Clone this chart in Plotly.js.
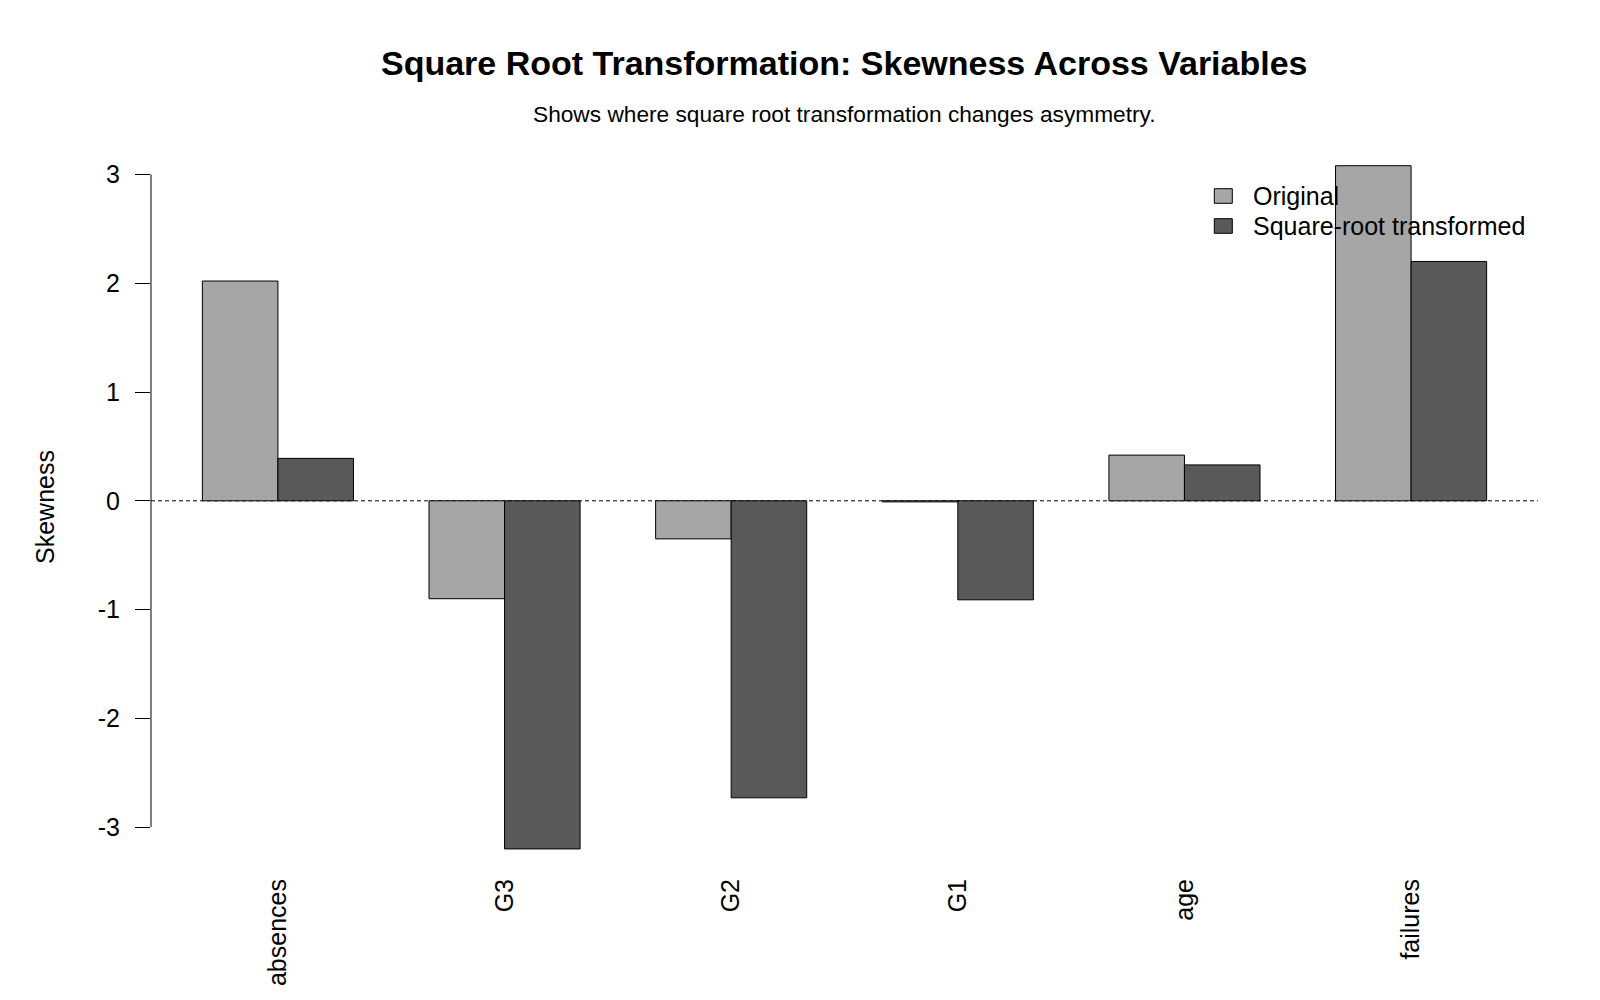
<!DOCTYPE html>
<html>
<head>
<meta charset="utf-8">
<script src="https://cdn.plot.ly/plotly-3.0.1.min.js"></script>
<style>
  html, body { margin: 0; padding: 0; background: #ffffff; }
  #chart { width: 1600px; height: 1000px; }
</style>
</head>
<body>
<div id="chart"></div>
<script>
// Skewness of each variable before and after a square-root transformation
const variables = ['absences', 'G3', 'G2', 'G1', 'age', 'failures'];
const skewOriginal = [2.02, -0.90, -0.35, -0.01, 0.42, 3.08];
const skewSqrt = [0.39, -3.20, -2.73, -0.91, 0.33, 2.20];
const seriesNames = ['Original', 'Square-root transformed'];
const seriesColors = ['#A6A6A6', '#595959'];
const yTicks = [-3, -2, -1, 0, 1, 2, 3];

const chartTitle = 'Square Root Transformation: Skewness Across Variables';
const chartSubtitle = 'Shows where square root transformation changes asymmetry.';
const yLabel = 'Skewness';

const FONT = 'Liberation Sans, Arial, sans-serif';

// plot region in pixels (used to place the hand-built legend and titles)
const M = { l: 151, r: 62, t: 137, b: 123 };
const W = 1600, H = 1000;
const plotW = W - M.l - M.r, plotH = H - M.t - M.b;
const px = x => (x - M.l) / plotW;           // pixel x -> paper x
const py = y => (H - M.b - y) / plotH;       // pixel y -> paper y

const traces = [skewOriginal, skewSqrt].map((vals, i) => ({
  type: 'bar',
  name: seriesNames[i],
  x: variables,
  y: vals,
  marker: { color: seriesColors[i], line: { color: '#000000', width: 1 } },
  showlegend: false,
  hoverinfo: 'x+y+name'
}));

const shapes = [
  // dashed reference line at zero
  { type: 'line', xref: 'paper', yref: 'y', x0: 0, x1: 1, y0: 0, y1: 0,
    line: { color: '#000000', width: 1, dash: '4px,3px' }, layer: 'below' },
  // y axis line spanning the tick range only
  { type: 'line', xref: 'paper', yref: 'y', x0: 0, x1: 0,
    y0: yTicks[0], y1: yTicks[yTicks.length - 1],
    line: { color: '#000000', width: 1 } }
];

const annotations = [
  { text: '<b>' + chartTitle + '</b>', xref: 'paper', yref: 'paper',
    x: 0.5, y: py(63), xanchor: 'center', yanchor: 'middle', showarrow: false,
    font: { family: FONT, size: 34, color: '#000000' } },
  { text: chartSubtitle, xref: 'paper', yref: 'paper',
    x: 0.5, y: py(114), xanchor: 'center', yanchor: 'middle', showarrow: false,
    font: { family: FONT, size: 22.7, color: '#000000' } },
  { text: yLabel, xref: 'paper', yref: 'paper', textangle: -90,
    x: px(45), y: 0.5, xanchor: 'center', yanchor: 'middle', showarrow: false,
    font: { family: FONT, size: 25, color: '#000000' } }
];

// legend: filled boxes with labels, drawn over the bars
const legendRows = [196, 226];
seriesNames.forEach((name, i) => {
  const cy = legendRows[i];
  shapes.push({ type: 'rect', xref: 'paper', yref: 'paper', layer: 'above',
    x0: px(1214.3), x1: px(1232.3), y0: py(cy - 7.3), y1: py(cy + 7.3),
    fillcolor: seriesColors[i], line: { color: '#000000', width: 1 } });
  annotations.push({ text: name, xref: 'paper', yref: 'paper',
    x: px(1251), y: py(cy), xanchor: 'left', yanchor: 'middle', showarrow: false,
    font: { family: FONT, size: 25, color: '#000000' } });
});

const layout = {
  width: W, height: H,
  margin: M,
  paper_bgcolor: '#ffffff', plot_bgcolor: '#ffffff',
  font: { family: FONT, size: 25, color: '#000000' },
  barmode: 'group',
  bargap: 1 / 3,
  bargroupgap: 0,
  xaxis: {
    type: 'category', range: [-0.56, 5.56],
    showline: false, showgrid: false, zeroline: false,
    ticks: '', tickangle: -90, ticklabelstandoff: -4,
    tickfont: { family: FONT, size: 25, color: '#000000' }
  },
  yaxis: {
    range: [-3.458, 3.344],
    tickvals: yTicks, ticktext: yTicks.map(String),
    ticks: 'outside', ticklen: 15, tickwidth: 1, tickcolor: '#000000',
    ticklabelstandoff: 10,
    showline: false, showgrid: false, zeroline: false,
    tickfont: { family: FONT, size: 25, color: '#000000' }
  },
  shapes: shapes,
  annotations: annotations
};

Plotly.newPlot('chart', traces, layout, { displayModeBar: false, responsive: false });
</script>
</body>
</html>
